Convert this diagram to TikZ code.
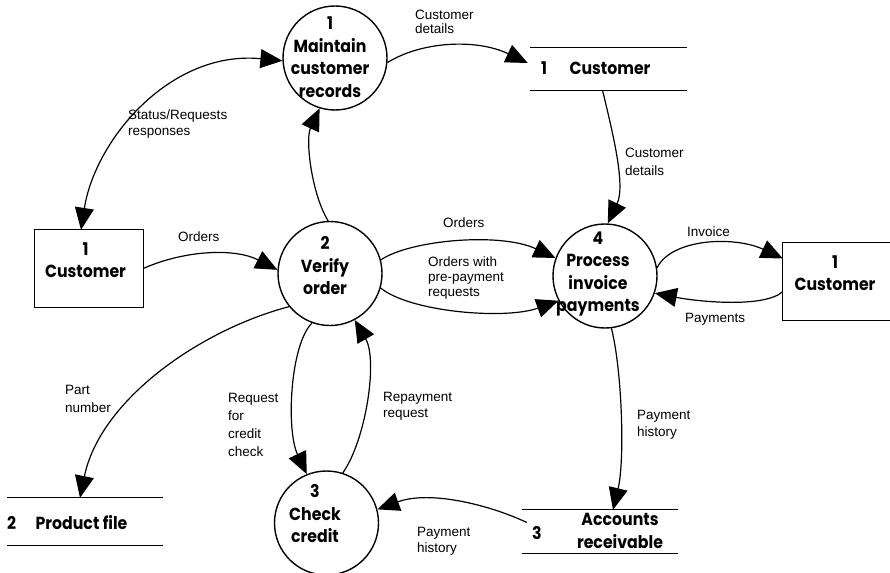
\documentclass[tikz,border=0pt]{standalone}
\usepackage{fontspec}
\setmainfont{Liberation Sans}
\newfontfamily\headfont[FakeStretch=0.9]{Poppins}
\usetikzlibrary{arrows.meta,calc}

\tikzset{
  >={Triangle[length=22pt,width=19pt]},
  flow/.style={line width=1.2pt,->},
  proc/.style={circle,draw,line width=1.4pt,minimum size=104pt,inner sep=0pt},
  ptext/.style={align=center,inner sep=0pt,
    font=\headfont\bfseries\fontsize{17.5}{22.5}\selectfont},
  ext/.style={rectangle,inner sep=0pt},
  extline/.style={line width=1.3pt},
  store/.style={rectangle,inner sep=0pt},
  storeline/.style={line width=1.3pt},
  lab/.style={align=left,inner sep=0pt,anchor=north west,
    font=\fontsize{13.5}{#1}\selectfont},
  lab/.default=16
}

\begin{document}
\begin{tikzpicture}[x=1pt,y=-1pt]
\useasboundingbox (0,0) rectangle (890,572);

% processes
\node[proc] (p1) at (335,58) {};
\node[ptext] (p1t) at (330,57) {1\\Maintain\\customer\\records};
\node[proc] (p2) at (330,273.5) {};
\node[ptext] (p2t) at (325,266) {2\\Verify\\order};
\node[proc] (p3) at (326.5,523) {};
\node[ptext] (p3t) at (315,514) {3\\Check\\credit};
\node[proc] (p4) at (605,276) {};
\node[ptext] (p4t) at (598,274) {4\\Process\\invoice\\payments};

% external entities
\node[ext,minimum width=108pt,minimum height=77pt] (c1) at (89,268.5) {};
\draw[extline] (c1.north west) rectangle (c1.south east);
\node[ptext] (c1t) at (85.5,260) {1\\Customer};
\node[ext,minimum width=107pt,minimum height=77pt] (r1) at (836.5,281.5) {};
\draw[extline] (r1.north east) -- (r1.north west) -- (r1.south west) -- (r1.south east);
\node[ptext] (r1t) at (835,273) {1\\Customer};

% data stores
\node[store,minimum width=157pt,minimum height=42pt] (s1) at (608.5,69) {};
\draw[storeline] (s1.north west) -- (s1.north east) (s1.south west) -- (s1.south east);
\node[ptext] (s1n) at (544,68) {1};
\node[ptext] (s1t) at (610,68) {Customer};
\node[store,minimum width=156pt,minimum height=47pt] (s2) at (85,521.5) {};
\draw[storeline] (s2.north west) -- (s2.north east) (s2.south west) -- (s2.south east);
\node[ptext] (s2n) at (11.5,523) {2};
\node[ptext] (s2t) at (81.5,523) {Product file};
\node[store,minimum width=156pt,minimum height=43pt] (s3) at (600,531.5) {};
\draw[storeline] (s3.north west) -- (s3.north east) (s3.south west) -- (s3.south east);
\node[ptext] (s3n) at (537,533) {3};
\node[ptext] (s3t) at (620,531) {Accounts\\receivable};

% data flows
\draw[line width=1.2pt,<->] ($(c1.north)+(-8,0)$) .. controls (95,140) and (170,50) .. (p1.183);
\draw[flow] (p1.-5) .. controls (420,42) and (475,38) .. ($(s1.west)+(-2,-6)$);
\draw[flow] ($(s1.south)+(-6,0)$) .. controls (612,130) and (626,185) .. (p4.87);
\draw[flow] (c1.east) .. controls (185,250) and (235,248) .. (p2.176);
\draw[flow] (p2.92) .. controls (312,195) and (305,140) .. (p1.-107);
\draw[flow] (p2.15) .. controls (410,240) and (500,232) .. (p4.160);
\draw[flow] (p2.-16) .. controls (410,312) and (505,320) .. (p4.-152);
\draw[flow] (p2.-110) .. controls (290,345) and (286,430) .. (p3.112);
\draw[flow] (p3.72) .. controls (366,440) and (378,360) .. (p2.-62);
\draw[flow] (p2.-141) .. controls (200,330) and (100,400) .. ($(s2.north)+(-5,0)$);
\draw[flow] (p4.9) .. controls (672,238) and (735,236) .. ($(r1.west)+(0,-23)$);
\draw[flow] ($(r1.west)+(0,10)$) .. controls (765,308) and (700,302) .. (p4.-19);
\draw[flow] (p4.-83) .. controls (622,370) and (625,460) .. ($(s3.north)+(13,0)$);
\draw[flow] ($(s3.west)+(5,-9)$) .. controls (490,505) and (430,490) .. (p3.15);

% flow labels
\node[lab] (l1) at (128,110) {Status/Requests\\responses};
\node[lab=14] (l2) at (415,10) {Customer\\details};
\node[lab=18] (l3) at (625,148) {Customer\\details};
\node[lab] (l4) at (178,232) {Orders};
\node[lab] (l5) at (443,218) {Orders};
\node[lab=15] (l6) at (428,257) {Orders with\\pre-payment\\requests};
\node[lab=18] (l7) at (65,385) {Part\\number};
\node[lab=18] (l8) at (228,393) {Request\\for\\credit\\check};
\node[lab] (l9) at (383,392) {Repayment\\request};
\node[lab] (l10) at (687,227) {Invoice};
\node[lab] (l11) at (685,313) {Payments};
\node[lab=17] (l12) at (637,410) {Payment\\history};
\node[lab] (l13) at (417,527) {Payment\\history};
\end{tikzpicture}
\end{document}
